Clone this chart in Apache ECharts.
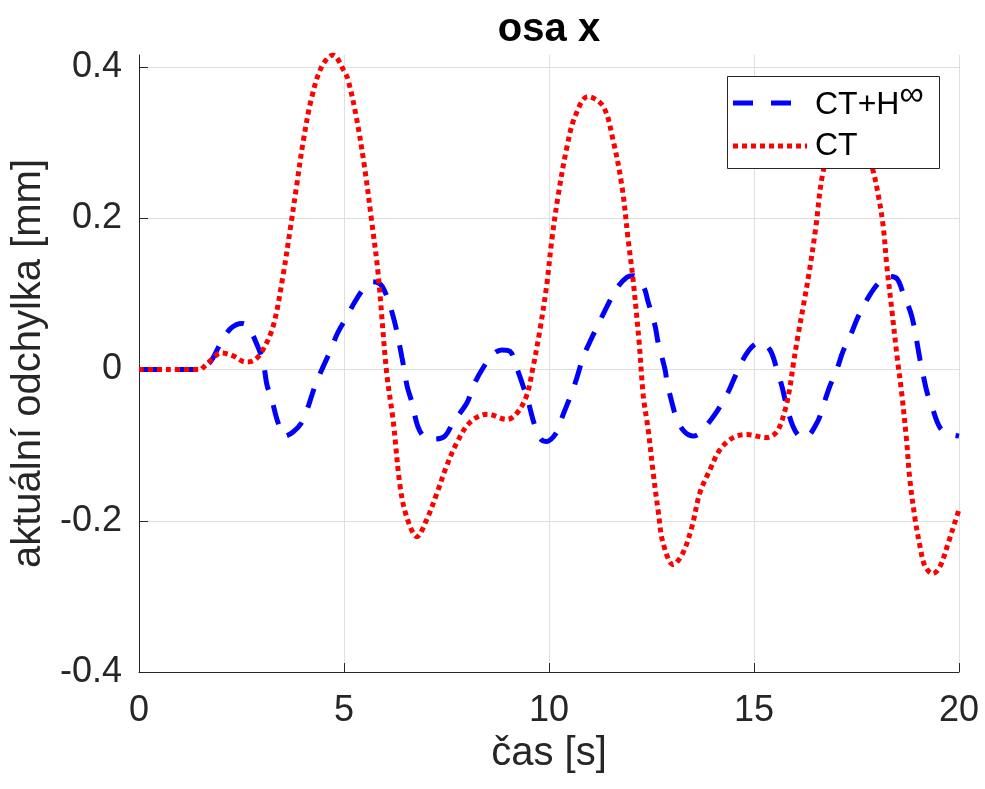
<!DOCTYPE html>
<html>
<head>
<meta charset="utf-8">
<script src="https://cdn.jsdelivr.net/npm/echarts@6/dist/echarts.min.js"></script>
<style>
  html, body { margin: 0; padding: 0; background: #fff; }
  #chart { width: 985px; height: 789px; }
</style>
</head>
<body>
<div id="chart"></div>
<script>
// Deviation along the x axis: controller CT+H∞ vs. plain CT
const timeHinf = [0, 1.5, 1.65, 1.8, 2.0, 2.25, 2.51, 2.66, 2.9, 3.03, 3.12, 3.24, 3.39, 3.56, 3.75, 3.97, 4.12, 4.29, 4.46, 4.66, 4.85, 5.07, 5.27, 5.5, 5.7, 5.93, 6.2, 6.41, 6.54, 6.66, 6.8, 6.98, 7.2, 7.46, 7.66, 8.0, 8.15, 8.39, 8.63, 8.85, 9.05, 9.2, 9.37, 9.5, 9.66, 9.82, 9.95, 10.2, 10.3, 10.56, 10.68, 10.83, 11.0, 11.24, 11.41, 11.66, 11.9, 12.05, 12.3, 12.42, 12.59, 12.66, 12.83, 12.88, 13.0, 13.12, 13.3, 13.52, 13.68, 13.9, 14.1, 14.34, 14.54, 14.73, 14.95, 15.15, 15.39, 15.56, 15.68, 15.8, 15.95, 16.1, 16.24, 16.54, 16.68, 16.85, 17.02, 17.17, 17.39, 17.54, 17.83, 18.07, 18.3, 18.49, 18.63, 18.85, 19.05, 19.1, 19.22, 19.34, 19.54, 19.78, 19.9, 20];
const devHinf = [0, 0, 0.005, 0.015, 0.036, 0.055, 0.061, 0.057, 0.03, 0.01, -0.02, -0.04, -0.07, -0.088, -0.083, -0.07, -0.05, -0.022, 0, 0.024, 0.049, 0.07, 0.09, 0.108, 0.116, 0.11, 0.07, 0.017, -0.022, -0.044, -0.075, -0.09, -0.092, -0.088, -0.07, -0.044, -0.022, 0.002, 0.02, 0.026, 0.024, 0.004, -0.022, -0.044, -0.075, -0.093, -0.095, -0.082, -0.066, -0.03, -0.011, 0.016, 0.037, 0.064, 0.083, 0.108, 0.122, 0.124, 0.11, 0.089, 0.057, 0.036, 0, -0.017, -0.044, -0.066, -0.082, -0.088, -0.084, -0.07, -0.055, -0.033, -0.009, 0.013, 0.03, 0.036, 0.026, 0, -0.022, -0.049, -0.075, -0.088, -0.09, -0.07, -0.049, -0.022, 0, 0.024, 0.05, 0.07, 0.099, 0.116, 0.123, 0.12, 0.102, 0.07, 0.013, 0, -0.03, -0.049, -0.077, -0.086, -0.087, -0.088];

const timeCT = [0, 1.5, 1.55, 1.75, 2.0, 2.3, 2.6, 2.8, 3.0, 3.27, 3.5, 3.7, 3.85, 4.0, 4.2, 4.45, 4.73, 5.0, 5.1, 5.3, 5.5, 5.68, 5.83, 6.04, 6.2, 6.37, 6.53, 6.78, 7.02, 7.27, 7.5, 7.75, 8.07, 8.5, 8.97, 9.2, 9.45, 9.6, 9.78, 9.94, 10.07, 10.22, 10.44, 10.63, 10.95, 11.32, 11.56, 11.78, 11.93, 12.05, 12.2, 12.3, 12.42, 12.54, 12.67, 12.78, 13.03, 13.27, 13.49, 13.68, 13.93, 14.17, 14.49, 14.83, 15.3, 15.56, 15.76, 15.88, 15.95, 16.07, 16.2, 16.35, 16.5, 16.68, 17.0, 17.3, 17.6, 17.9, 18.02, 18.15, 18.24, 18.37, 18.49, 18.6, 18.72, 18.8, 18.93, 19.05, 19.17, 19.36, 19.54, 19.74, 19.9, 20];
const devCT = [0, 0, 0.002, 0.012, 0.022, 0.018, 0.01, 0.012, 0.024, 0.057, 0.12, 0.19, 0.245, 0.3, 0.357, 0.4, 0.416, 0.395, 0.383, 0.334, 0.268, 0.194, 0.128, -0.004, -0.068, -0.155, -0.195, -0.221, -0.198, -0.163, -0.128, -0.097, -0.07, -0.059, -0.066, -0.059, -0.035, 0, 0.053, 0.11, 0.172, 0.229, 0.295, 0.334, 0.361, 0.348, 0.304, 0.242, 0.172, 0.119, 0.035, -0.035, -0.08, -0.136, -0.19, -0.229, -0.258, -0.242, -0.207, -0.163, -0.132, -0.106, -0.09, -0.086, -0.09, -0.082, -0.053, -0.022, 0.004, 0.044, 0.083, 0.13, 0.185, 0.26, 0.32, 0.345, 0.32, 0.264, 0.234, 0.19, 0.137, 0.075, 0.017, -0.03, -0.093, -0.145, -0.198, -0.234, -0.26, -0.27, -0.26, -0.229, -0.202, -0.185];

const seriesNames = ['CT+H∞', 'CT'];
const xTicks = [0, 5, 10, 15, 20];
const yTicks = [-0.4, -0.2, 0, 0.2, 0.4];

const FONT = 'Liberation Sans, Arial, Helvetica, sans-serif';
const AXIS_COLOR = '#262626';
const GRID_COLOR = '#dfdfdf';
const BLUE = '#0000ff';
const RED = '#ff0000';
const DASH = [20, 16];
const DOT = [5, 4];

const pairs = (t, v) => t.map((x, i) => [x, v[i]]);

const chart = echarts.init(document.getElementById('chart'), null, { renderer: 'canvas' });

// Boxed legend in the upper right of the plot area
const LEG = { x: 727, y: 76, w: 212, h: 92, sample: 74, row1: 103, row2: 146 };
const legendGraphics = [
  {
    type: 'rect', z: 100,
    shape: { x: LEG.x + 0.5, y: LEG.y + 0.5, width: LEG.w, height: LEG.h },
    style: { fill: '#ffffff', stroke: AXIS_COLOR, lineWidth: 1 }
  },
  {
    type: 'line', z: 101,
    shape: { x1: LEG.x + 6, y1: LEG.row1, x2: LEG.x + 6 + 58, y2: LEG.row1 },
    style: { stroke: BLUE, lineWidth: 5, lineDash: [20, 18], lineCap: 'butt' }
  },
  {
    type: 'line', z: 101,
    shape: { x1: LEG.x + 6, y1: LEG.row2, x2: LEG.x + 6 + LEG.sample, y2: LEG.row2 },
    style: { stroke: RED, lineWidth: 5, lineDash: DOT, lineCap: 'butt' }
  },
  {
    type: 'text', z: 101,
    x: LEG.x + 88, y: LEG.row1 + 2,
    style: {
      text: '{m|CT+H}{s|∞}',
      verticalAlign: 'middle',
      rich: {
        m: { fontFamily: FONT, fontSize: 32, fill: '#000', lineHeight: 32 },
        s: { fontFamily: FONT, fontSize: 34, fill: '#000', padding: [0, 0, 18, 0] }
      }
    }
  },
  {
    type: 'text', z: 101,
    x: LEG.x + 88, y: LEG.row2,
    style: { text: seriesNames[1], fontFamily: FONT, fontSize: 32, fill: '#000', verticalAlign: 'middle' }
  }
];

chart.setOption({
  backgroundColor: '#ffffff',
  animation: false,
  title: {
    text: 'osa x',
    left: 549,
    textAlign: 'center',
    top: 10,
    padding: 0,
    textStyle: { fontFamily: FONT, fontSize: 40, fontWeight: 'bold', color: '#000' }
  },
  grid: { left: 139, right: 26, top: 55, bottom: 117, containLabel: false },
  xAxis: {
    type: 'value',
    min: xTicks[0],
    max: xTicks[xTicks.length - 1],
    interval: 5,
    name: 'čas [s]',
    nameLocation: 'middle',
    nameGap: 58,
    nameTextStyle: { fontFamily: FONT, fontSize: 40, color: AXIS_COLOR },
    axisLine: { onZero: false, lineStyle: { color: AXIS_COLOR, width: 1 } },
    axisTick: { inside: true, length: 9, lineStyle: { color: AXIS_COLOR, width: 1 } },
    axisLabel: { fontFamily: FONT, fontSize: 36, color: AXIS_COLOR, margin: 21 },
    splitLine: { show: true, lineStyle: { color: GRID_COLOR, width: 1 } }
  },
  yAxis: {
    type: 'value',
    min: yTicks[0],
    max: 0.416,
    interval: 0.2,
    name: 'aktuální odchylka [mm]',
    nameLocation: 'middle',
    nameGap: 85,
    nameTextStyle: { fontFamily: FONT, fontSize: 40, color: AXIS_COLOR },
    axisLine: { show: true, lineStyle: { color: AXIS_COLOR, width: 1 } },
    axisTick: { show: true, inside: true, length: 9, customValues: yTicks, lineStyle: { color: AXIS_COLOR, width: 1 } },
    axisLabel: {
      fontFamily: FONT, fontSize: 36, color: AXIS_COLOR, margin: 17,
      formatter: v => {
        const hit = yTicks.find(t => Math.abs(t - v) < 1e-6);
        return hit === undefined ? '' : String(hit);
      }
    },
    splitLine: { show: true, lineStyle: { color: GRID_COLOR, width: 1 } }
  },
  graphic: legendGraphics,
  series: [
    {
      name: seriesNames[0],
      type: 'line',
      data: pairs(timeHinf, devHinf),
      showSymbol: false,
      symbol: 'none',
      smooth: 0.35,
      lineStyle: { color: BLUE, width: 5, type: DASH, cap: 'butt' },
      itemStyle: { color: BLUE },
      z: 2
    },
    {
      name: seriesNames[1],
      type: 'line',
      data: pairs(timeCT, devCT),
      showSymbol: false,
      symbol: 'none',
      smooth: 0.35,
      lineStyle: { color: RED, width: 5, type: DOT, cap: 'butt' },
      itemStyle: { color: RED },
      z: 3
    }
  ]
});
</script>
</body>
</html>
